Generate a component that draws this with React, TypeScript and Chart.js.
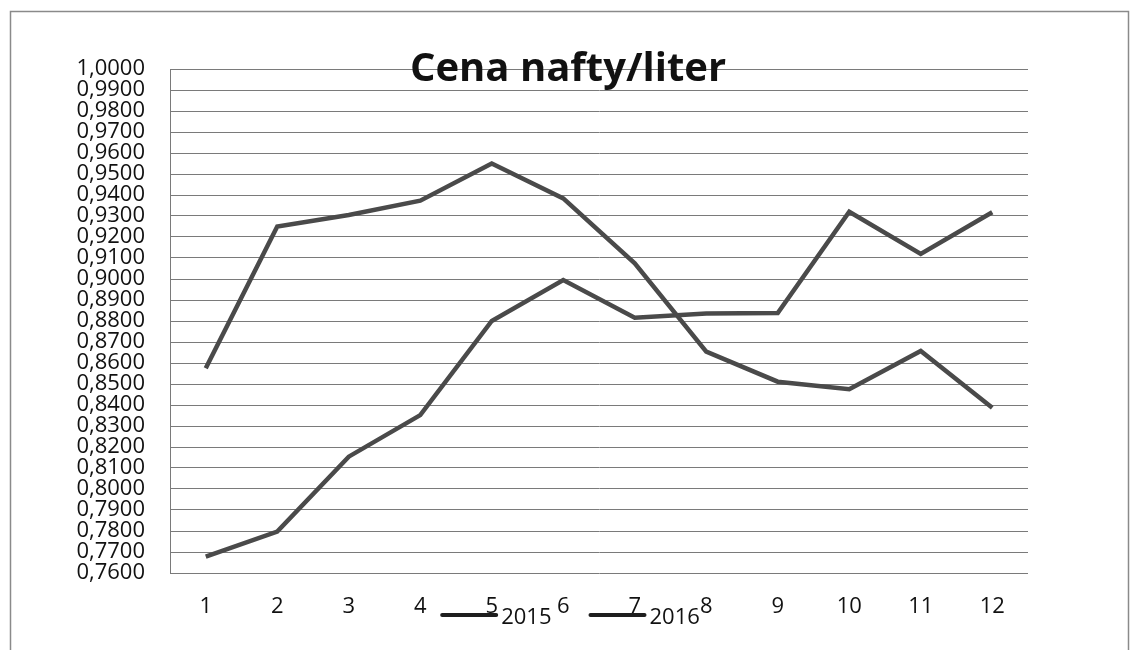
import React, { useEffect, useRef } from "react";
import { Chart, registerables } from "chart.js";

Chart.register(...registerables);

const months = ["1", "2", "3", "4", "5", "6", "7", "8", "9", "10", "11", "12"];
const prices2015 = [0.8575, 0.925, 0.9305, 0.9373, 0.955, 0.9384, 0.9075, 0.8654, 0.8511, 0.8475, 0.8657, 0.8387];
const prices2016 = [0.7678, 0.7797, 0.8154, 0.8352, 0.88, 0.8995, 0.8816, 0.8836, 0.8838, 0.932, 0.9119, 0.9318];
const seriesNames = ["2015", "2016"];
const titleText = "Cena nafty/liter";
const yMin = 0.76;
const yMax = 1.0;
const yStep = 0.01;

const FONT = '"Open Sans", "DejaVu Sans", sans-serif';
const W = 1132;
const H = 650;

const decorPlugin = {
  id: "decor",
  afterDraw(chart: any) {
    const ctx = chart.ctx as CanvasRenderingContext2D;
    ctx.save();
    // outer frame (bottom edge is off the picture)
    ctx.strokeStyle = "#8a8a8a";
    ctx.lineWidth = 1.5;
    ctx.beginPath();
    ctx.moveTo(10.5, H);
    ctx.lineTo(10.5, 11.5);
    ctx.lineTo(1128.5, 11.5);
    ctx.lineTo(1128.5, H);
    ctx.stroke();

    // title
    ctx.fillStyle = "#111";
    ctx.font = `bold 40px ${FONT}`;
    ctx.textAlign = "center";
    ctx.textBaseline = "alphabetic";
    ctx.fillText(titleText, 568, 81);

    // legend
    ctx.font = `22px ${FONT}`;
    const sample = 54;
    const gapText = 5;
    const gapItems = 39;
    const widths = seriesNames.map((n) => sample + gapText + ctx.measureText(n).width);
    const total = widths.reduce((a, b) => a + b, 0) + gapItems * (seriesNames.length - 1);
    let x = 571 - total / 2;
    ctx.textAlign = "left";
    seriesNames.forEach((name, i) => {
      ctx.strokeStyle = "#1e1e1e";
      ctx.lineWidth = 4;
      ctx.lineCap = "round";
      ctx.beginPath();
      ctx.moveTo(x, 615);
      ctx.lineTo(x + sample, 615);
      ctx.stroke();
      ctx.fillStyle = "#111";
      ctx.fillText(name, x + sample + gapText, 624);
      x += widths[i] + gapItems;
    });
    ctx.restore();
  },
};

export default function App() {
  const ref = useRef<HTMLCanvasElement | null>(null);

  useEffect(() => {
    if (!ref.current) return;
    const chart = new Chart(ref.current, {
      type: "line",
      data: {
        labels: months,
        datasets: [
          {
            label: seriesNames[0],
            data: prices2015,
            borderColor: "#4a4a4a",
            borderWidth: 4.5,
            pointRadius: 0,
            tension: 0,
            fill: false,
          },
          {
            label: seriesNames[1],
            data: prices2016,
            borderColor: "#4a4a4a",
            borderWidth: 4.5,
            pointRadius: 0,
            tension: 0,
            fill: false,
          },
        ],
      },
      options: {
        animation: false,
        responsive: false,
        devicePixelRatio: 1,
        layout: { padding: { left: 0, right: 104, top: 69, bottom: 27 } },
        plugins: {
          legend: { display: false },
          title: { display: false },
          tooltip: { enabled: false },
        },
        scales: {
          x: {
            type: "category",
            offset: true,
            grid: { display: false, drawTicks: false },
            border: { display: false },
            ticks: {
              color: "#111",
              font: { family: FONT, size: 22 },
              padding: 21,
              maxRotation: 0,
              autoSkip: false,
            },
            afterFit(s: any) {
              s.height = 50;
            },
          },
          y: {
            type: "linear",
            min: yMin,
            max: yMax,
            grid: { color: "#7a7a7a", lineWidth: 1, drawTicks: false },
            border: { display: true, color: "#7a7a7a", width: 1 },
            ticks: {
              stepSize: yStep,
              autoSkip: false,
              maxTicksLimit: 100,
              color: "#111",
              font: { family: FONT, size: 22 },
              padding: 25,
              callback: (v: any) => Number(v).toFixed(4).replace(".", ","),
            },
            afterFit(s: any) {
              s.width = 170;
            },
          },
        },
      },
      plugins: [decorPlugin],
    });
    return () => chart.destroy();
  }, []);

  return (
    <div style={{ position: "fixed", left: 0, top: 0, width: W, height: H, background: "#fff" }}>
      <canvas ref={ref} width={W} height={H} style={{ display: "block" }} />
    </div>
  );
}
